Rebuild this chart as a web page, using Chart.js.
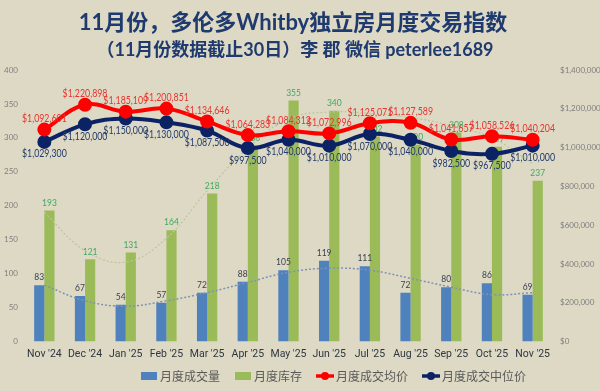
<!DOCTYPE html>
<html><head><meta charset="utf-8">
<script src="https://cdn.jsdelivr.net/npm/chart.js@4.4.1/dist/chart.umd.min.js"></script>
<style>html,body{margin:0;padding:0;background:#DDD9C4;overflow:hidden}</style>
</head><body>
<canvas id="c" width="600" height="391" style="width:600px;height:391px;display:block"></canvas>
<script>
const months = ["Nov '24","Dec '24","Jan '25","Feb '25","Mar '25","Apr '25","May '25","Jun '25","Jul '25","Aug '25","Sep '25","Oct '25","Nov '25"];
const sales = [83,67,54,57,72,88,105,119,111,72,80,86,69];
const inventory = [193,121,131,164,218,288,355,340,302,290,308,287,237];
const avgPrice = [1092601,1220898,1185109,1200851,1134646,1064283,1084312,1072996,1125071,1127589,1041657,1058526,1040204];
const medianPrice = [1029300,1120000,1150000,1130000,1087500,997500,1040000,1010000,1070000,1040000,982500,967500,1010000];
// dotted trend curves
const salesTrend = [83,60,52,60,72,87,102,108,105,93,80,69,72];
const inventoryTrend = [190,134,117,152,222,285,328,338,336,330,318,300,262];
const seriesNames = ["月度成交量","月度库存","月度成交均价","月度成交中位价"];
const titleText = "11月份，多伦多Whitby独立房月度交易指数";
const subtitleText = "（11月份数据截止30日）李 郡 微信 peterlee1689";

const BG = '#DDD9C4';
const BLUE = '#4F81BD', GREEN = '#9BBB59', RED = '#FF0000', NAVY = '#0B2365';
const money = v => '$' + Math.round(v).toLocaleString('en-US');
const LABEL_FONT = "Lato, sans-serif";

function narrowText(c, text, x, y, sx) {
  c.save(); c.translate(x, y); c.scale(sx, 1); c.fillText(text, 0, 0); c.restore();
}

const bgPlugin = {
  id: 'bg',
  beforeDraw(chart) {
    const c = chart.ctx; c.save(); c.fillStyle = BG; c.fillRect(0,0,chart.width,chart.height); c.restore();
  },
  afterDraw(chart) {
    const c = chart.ctx; c.save();
    c.textAlign = 'center'; c.textBaseline = 'middle'; c.fillStyle = '#1F3A6E';
    c.font = "bold 22px Lato, 'Noto Sans CJK SC'";
    c.fillText(titleText, 293, 23);
    c.font = "bold 18px Lato, 'Noto Sans CJK SC'";
    c.fillText(subtitleText, 295, 50);
    // legend
    const items = [
      {kind:'rect', color:BLUE, text:seriesNames[0]},
      {kind:'rect', color:GREEN, text:seriesNames[1]},
      {kind:'line', color:RED, text:seriesNames[2]},
      {kind:'line', color:NAVY, text:seriesNames[3]}
    ];
    c.font = "12px 'Noto Sans CJK SC'";
    const mw = 18, gapT = 2, gapI = 14;
    let total = 0;
    items.forEach((it,i)=>{ it.w = mw + gapT + c.measureText(it.text).width; total += it.w + (i? gapI:0); });
    let x = 333 - total/2; const y = 376;
    items.forEach(it=>{
      if (it.kind==='rect') { c.fillStyle = it.color; c.fillRect(x+1, y-4, 16, 8); }
      else {
        c.strokeStyle = it.color; c.lineWidth = 3.5; c.beginPath(); c.moveTo(x, y); c.lineTo(x+mw, y); c.stroke();
        c.fillStyle = it.color; c.beginPath(); c.arc(x+mw/2, y, 4, 0, Math.PI*2); c.fill();
      }
      c.fillStyle = '#595959'; c.textAlign = 'left';
      c.fillText(it.text, x + mw + gapT, y);
      x += it.w + gapI;
    });
    c.restore();
  }
};

const labelPlugin = {
  id: 'vlabels',
  afterDatasetDraw(chart, args) {
    const ds = chart.data.datasets[args.index];
    if (ds.type !== 'bar') return;
    const c = chart.ctx; c.save();
    c.font = "10px " + LABEL_FONT; c.textAlign = 'center'; c.textBaseline = 'middle';
    c.fillStyle = ds.labelColor;
    args.meta.data.forEach((el,i)=>{ narrowText(c, String(ds.data[i]), el.x, el.y - 8, 0.85); });
    c.restore();
  },
  afterDatasetsDraw(chart) {
    const c = chart.ctx; c.save();
    c.font = "11px " + LABEL_FONT; c.textAlign = 'center'; c.textBaseline = 'middle';
    chart.data.datasets.forEach((ds, di) => {
      if (!ds.priceLabel) return;
      const meta = chart.getDatasetMeta(di);
      c.fillStyle = ds.labelColor;
      meta.data.forEach((el,i)=>{ narrowText(c, money(ds.data[i]), el.x, el.y + ds.priceLabel, 0.8); });
    });
    c.restore();
  }
};

new Chart(document.getElementById('c'), {
  data: {
    labels: months,
    datasets: [
      {type:'line', label:seriesNames[2], data:avgPrice, yAxisID:'y2', borderColor:RED, backgroundColor:RED,
       borderWidth:4, pointRadius:5, pointHoverRadius:5, tension:0.4, order:0, priceLabel:-11, labelColor:'#E8352F'},
      {type:'line', label:seriesNames[3], data:medianPrice, yAxisID:'y2', borderColor:NAVY, backgroundColor:NAVY,
       borderWidth:4, pointRadius:5, pointHoverRadius:5, tension:0.4, order:1, priceLabel:12, labelColor:'#243B6B'},
      {type:'line', label:'trend1', data:salesTrend, yAxisID:'y', borderColor:'#7D93B5', borderWidth:1.5,
       borderDash:[2,2], pointRadius:0, tension:0.4, order:2},
      {type:'line', label:'trend2', data:inventoryTrend, yAxisID:'y', borderColor:'#BAC79A', borderWidth:1.2,
       borderDash:[2,2], pointRadius:0, tension:0.4, order:3},
      {type:'bar', label:seriesNames[0], data:sales, yAxisID:'y', backgroundColor:BLUE, order:4, labelColor:'#3A4253'},
      {type:'bar', label:seriesNames[1], data:inventory, yAxisID:'y', backgroundColor:GREEN, order:5, labelColor:'#41A85F'}
    ]
  },
  options: {
    responsive:false, animation:false, devicePixelRatio:1,
    layout:{padding:{top:70, bottom:21.5, left:0, right:0}},
    datasets:{bar:{categoryPercentage:0.5, barPercentage:1.0, grouped:true}},
    plugins:{legend:{display:false}, tooltip:{enabled:false}, title:{display:false}},
    scales:{
      x:{grid:{display:false, drawTicks:false}, border:{display:false},
         ticks:{color:'#2F3640', font:{family:'Roboto', size:10.5}, padding:7, maxRotation:0, autoSkip:false},
         afterFit: s => { s.height = 28; }},
      y:{position:'left', min:0, max:400, grid:{display:false, drawTicks:false}, border:{display:false},
         ticks:{stepSize:50, color:'#7F7F7F', font:{family:'Lato', size:8}, padding:6},
         afterFit: s => { s.width = 24; }},
      y2:{position:'right', min:0, max:1400000, grid:{display:false, drawTicks:false}, border:{display:false},
         ticks:{stepSize:200000, color:'#7F7F7F', font:{family:'Lato', size:8}, padding:7, callback: v => money(v)},
         afterFit: s => { s.width = 47; }}
    }
  },
  plugins:[bgPlugin, labelPlugin]
});
</script>
</body></html>
